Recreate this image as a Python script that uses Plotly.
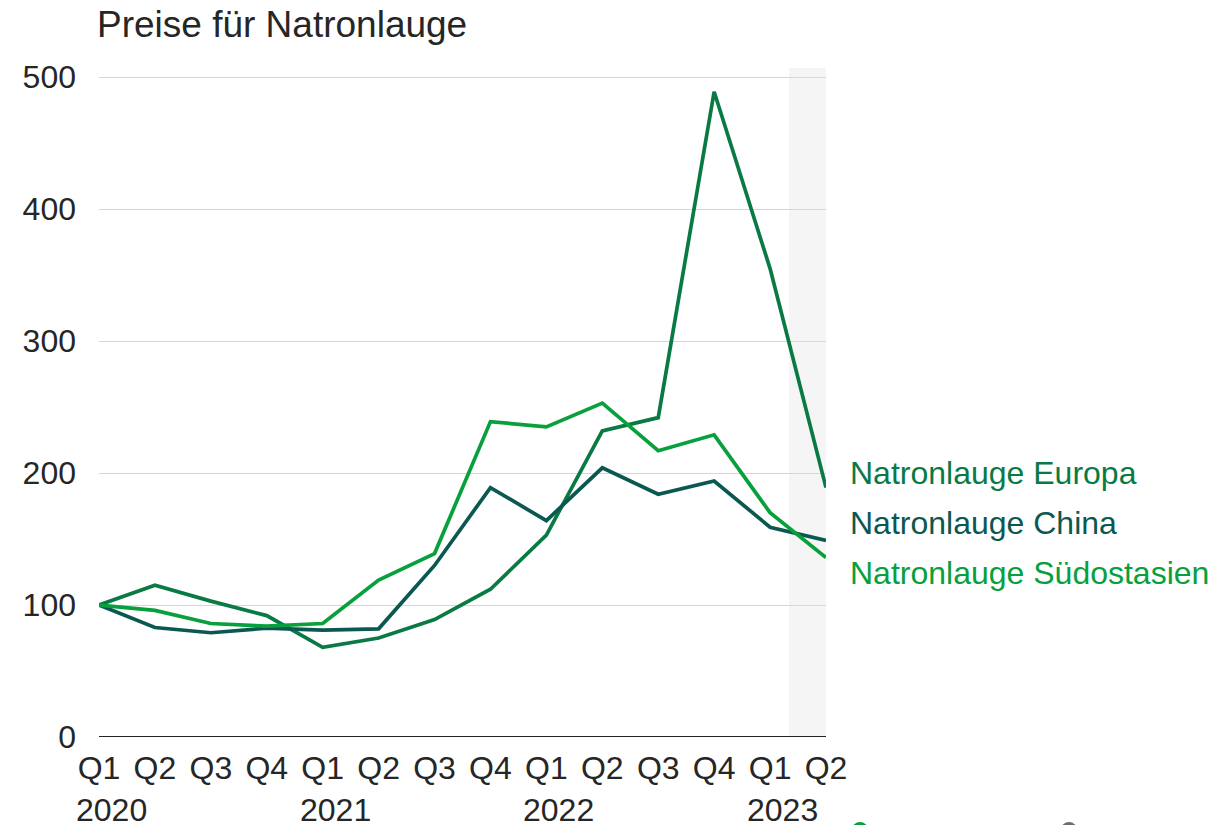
import plotly.graph_objects as go

quarters = ["Q1", "Q2", "Q3", "Q4", "Q1", "Q2", "Q3", "Q4", "Q1", "Q2", "Q3", "Q4", "Q1", "Q2"]
years = {0: "2020", 4: "2021", 8: "2022", 12: "2023"}
europa = [100, 115, 103, 92, 68, 75, 89, 112, 153, 232, 242, 489, 355, 189]
china = [100, 83, 79, 82.5, 81, 82, 130, 189, 164, 204, 184, 194, 159, 149]
suedostasien = [100, 96, 86, 84, 86, 119, 139, 239, 235, 253, 217, 229, 170, 136]

series = [
    ("Natronlauge Europa", europa, "#0a7a45"),
    ("Natronlauge China", china, "#0b5850"),
    ("Natronlauge Südostasien", suedostasien, "#07a03c"),
]

FONT = "Arial, Liberation Sans, sans-serif"
TXT = "#262626"
OFF = 8  # page body margin
W, H = 1225 - OFF, 825 - OFF
# plot area in page pixels: x 99..826, y 68..737
L, T = 99 - OFF, 68 - OFF
R, B = W - (826 - OFF), H - (737 - OFF)
PW, PH = W - L - R, H - T - B


def px_x(px):
    return (px - OFF - L) / PW


def px_y(py):
    return (H - B - (py - OFF)) / PH


x = list(range(len(quarters)))

fig = go.Figure()
for name, vals, col in series:
    fig.add_trace(go.Scatter(x=x, y=vals, mode="lines", name=name,
                             line=dict(color=col, width=3.7), showlegend=False,
                             hoverinfo="skip"))

# shaded forecast band
fig.add_shape(type="rect", xref="x", yref="paper", x0=12.34, x1=13, y0=0, y1=1,
              fillcolor="#f5f5f5", line_width=0, layer="below")

# right-side labels
label_py = [473, 523, 573]
for (name, vals, col), ly in zip(series, label_py):
    fig.add_annotation(x=13, xref="x", y=px_y(ly), yref="paper", text=name,
                       showarrow=False, xanchor="left", yanchor="middle", xshift=22,
                       font=dict(family=FONT, size=32, color=col))

# year labels under quarters
for i, yr in years.items():
    fig.add_annotation(x=i, xref="x", y=0, yref="paper", text=yr, showarrow=False,
                       xanchor="left", yanchor="middle", xshift=-25, yshift=-73,
                       font=dict(family=FONT, size=32, color=TXT))

# cut-off legend symbols at the bottom edge
for cx, col in [(860, "#07a03c"), (1069, "#6e6e6e")]:
    fig.add_shape(type="circle", xref="paper", yref="paper",
                  x0=px_x(cx - 8), x1=px_x(cx + 8), y0=px_y(838), y1=px_y(822),
                  fillcolor=col, line_width=0)

fig.update_layout(
    width=W, height=H,
    margin=dict(l=L, r=R, t=T, b=B, autoexpand=False),
    paper_bgcolor="white", plot_bgcolor="white",
    title=dict(text="Preise für Natronlauge", x=(97 - OFF) / W, xanchor="left",
               y=1 - (24 - OFF) / H, yanchor="middle",
               font=dict(family=FONT, size=37, color=TXT)),
    xaxis=dict(tickmode="array", tickvals=x, ticktext=quarters, range=[0, 13],
               showgrid=False, zeroline=False, showline=False, ticks="",
               automargin=False,
               tickfont=dict(family=FONT, size=32, color=TXT), ticklabelstandoff=9),
    yaxis=dict(range=[0, 507], tickvals=[0, 100, 200, 300, 400, 500],
               showgrid=True, gridcolor="#d6d6d6", gridwidth=1, zeroline=False,
               showline=False, ticks="", ticklabelstandoff=22, automargin=False,
               tickfont=dict(family=FONT, size=32, color=TXT)),
)

# baseline
fig.add_shape(type="line", xref="x", yref="y", x0=0, x1=13, y0=0, y1=0,
              line=dict(color="#222222", width=2))

fig.write_html("out.html")
